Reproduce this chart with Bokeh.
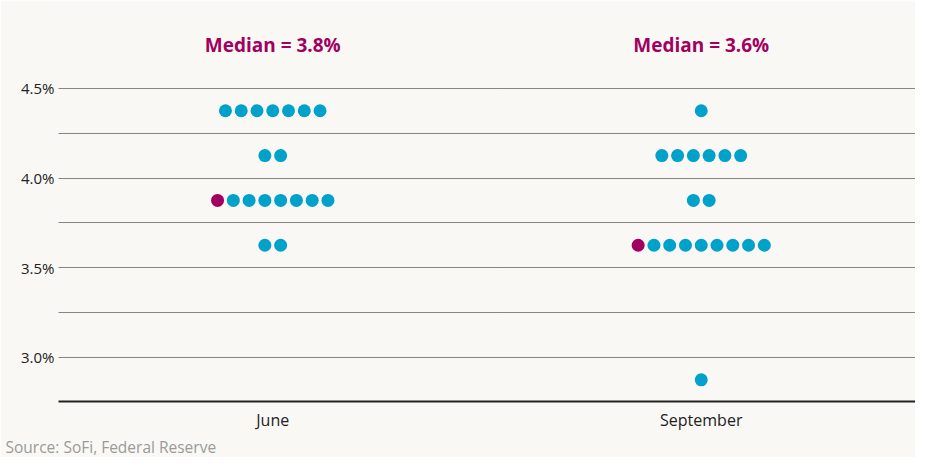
from bokeh.plotting import figure
from bokeh.models import Range1d, FixedTicker, Title, ColumnDataSource
from bokeh.core.properties import value
from bokeh.embed import file_html
from bokeh.resources import INLINE

periods = ["June", "September"]
rates = [4.375, 4.125, 3.875, 3.625, 2.875]
june_counts = [7, 2, 8, 2, 0]
sept_counts = [1, 6, 2, 9, 1]
median_rates = [3.875, 3.625]
median_labels = ["Median = 3.8%", "Median = 3.6%"]
median_label_y = [4.739, 4.739]
y_ticks = [3.0, 3.5, 4.0, 4.5]
grid_ticks = [3.0, 3.25, 3.5, 3.75, 4.0, 4.25, 4.5]
source_note = "Source: SoFi, Federal Reserve"

BLUE = "#00a2c9"
MAGENTA = "#a10060"
BG = "#f9f8f5"
FONT = "Open Sans"

centers = [0.5, 1.5]
spacing = 0.0368

xs, ys, cs = [], [], []
for k, counts in enumerate([june_counts, sept_counts]):
    for r, n in zip(rates, counts):
        for i in range(n):
            xs.append(centers[k] + (i - (n - 1) / 2) * spacing)
            ys.append(r)
            cs.append(MAGENTA if (r == median_rates[k] and i == 0) else BLUE)

src = ColumnDataSource(dict(x=xs, y=ys, c=cs))

p = figure(width=915, height=457, output_backend="svg", toolbar_location=None,
           x_range=Range1d(0, 2), y_range=Range1d(2.754, 4.945),
           min_border_left=58, min_border_right=0, min_border_top=8, min_border_bottom=0)
p.background_fill_color = BG
p.border_fill_color = BG
p.outline_line_color = None

p.scatter("x", "y", source=src, size=13, fill_color="c", line_color=None)

p.text(x=centers, y=median_label_y, text=median_labels, text_align="center",
       text_baseline="middle", text_color=MAGENTA, text_font=value(FONT),
       text_font_style="bold", text_font_size="19px")

p.xgrid.grid_line_color = None
p.ygrid.ticker = FixedTicker(ticks=grid_ticks)
p.ygrid.grid_line_color = "#111111"
p.ygrid.grid_line_dash = "1 1"
p.ygrid.grid_line_width = 1

p.yaxis.ticker = FixedTicker(ticks=y_ticks)
p.yaxis.major_label_overrides = {t: f"{t:.1f}%" for t in y_ticks}
p.yaxis.axis_line_color = None
p.yaxis.major_tick_line_color = None
p.yaxis.major_tick_out = 0
p.yaxis.major_tick_in = 0
p.yaxis.minor_tick_line_color = None
p.yaxis.major_label_standoff = 4
p.yaxis.major_label_text_font = FONT
p.yaxis.major_label_text_font_size = "15px"
p.yaxis.major_label_text_color = "#222222"

p.xaxis.ticker = FixedTicker(ticks=centers)
p.xaxis.major_label_overrides = {c: n for c, n in zip(centers, periods)}
p.xaxis.axis_line_color = "#222222"
p.xaxis.axis_line_width = 2
p.xaxis.major_tick_line_color = None
p.xaxis.major_tick_out = 0
p.xaxis.major_tick_in = 0
p.xaxis.minor_tick_line_color = None
p.xaxis.major_label_standoff = 7
p.xaxis.major_label_text_font = FONT
p.xaxis.major_label_text_font_size = "16px"
p.xaxis.major_label_text_color = "#222222"

note = Title(text=source_note, align="left", offset=-53, standoff=0,
             text_font=FONT, text_font_size="15.5px", text_font_style="normal",
             text_color="#9a9a9a")
p.add_layout(note, "below")

open("out.html", "w").write(file_html(p, INLINE))
